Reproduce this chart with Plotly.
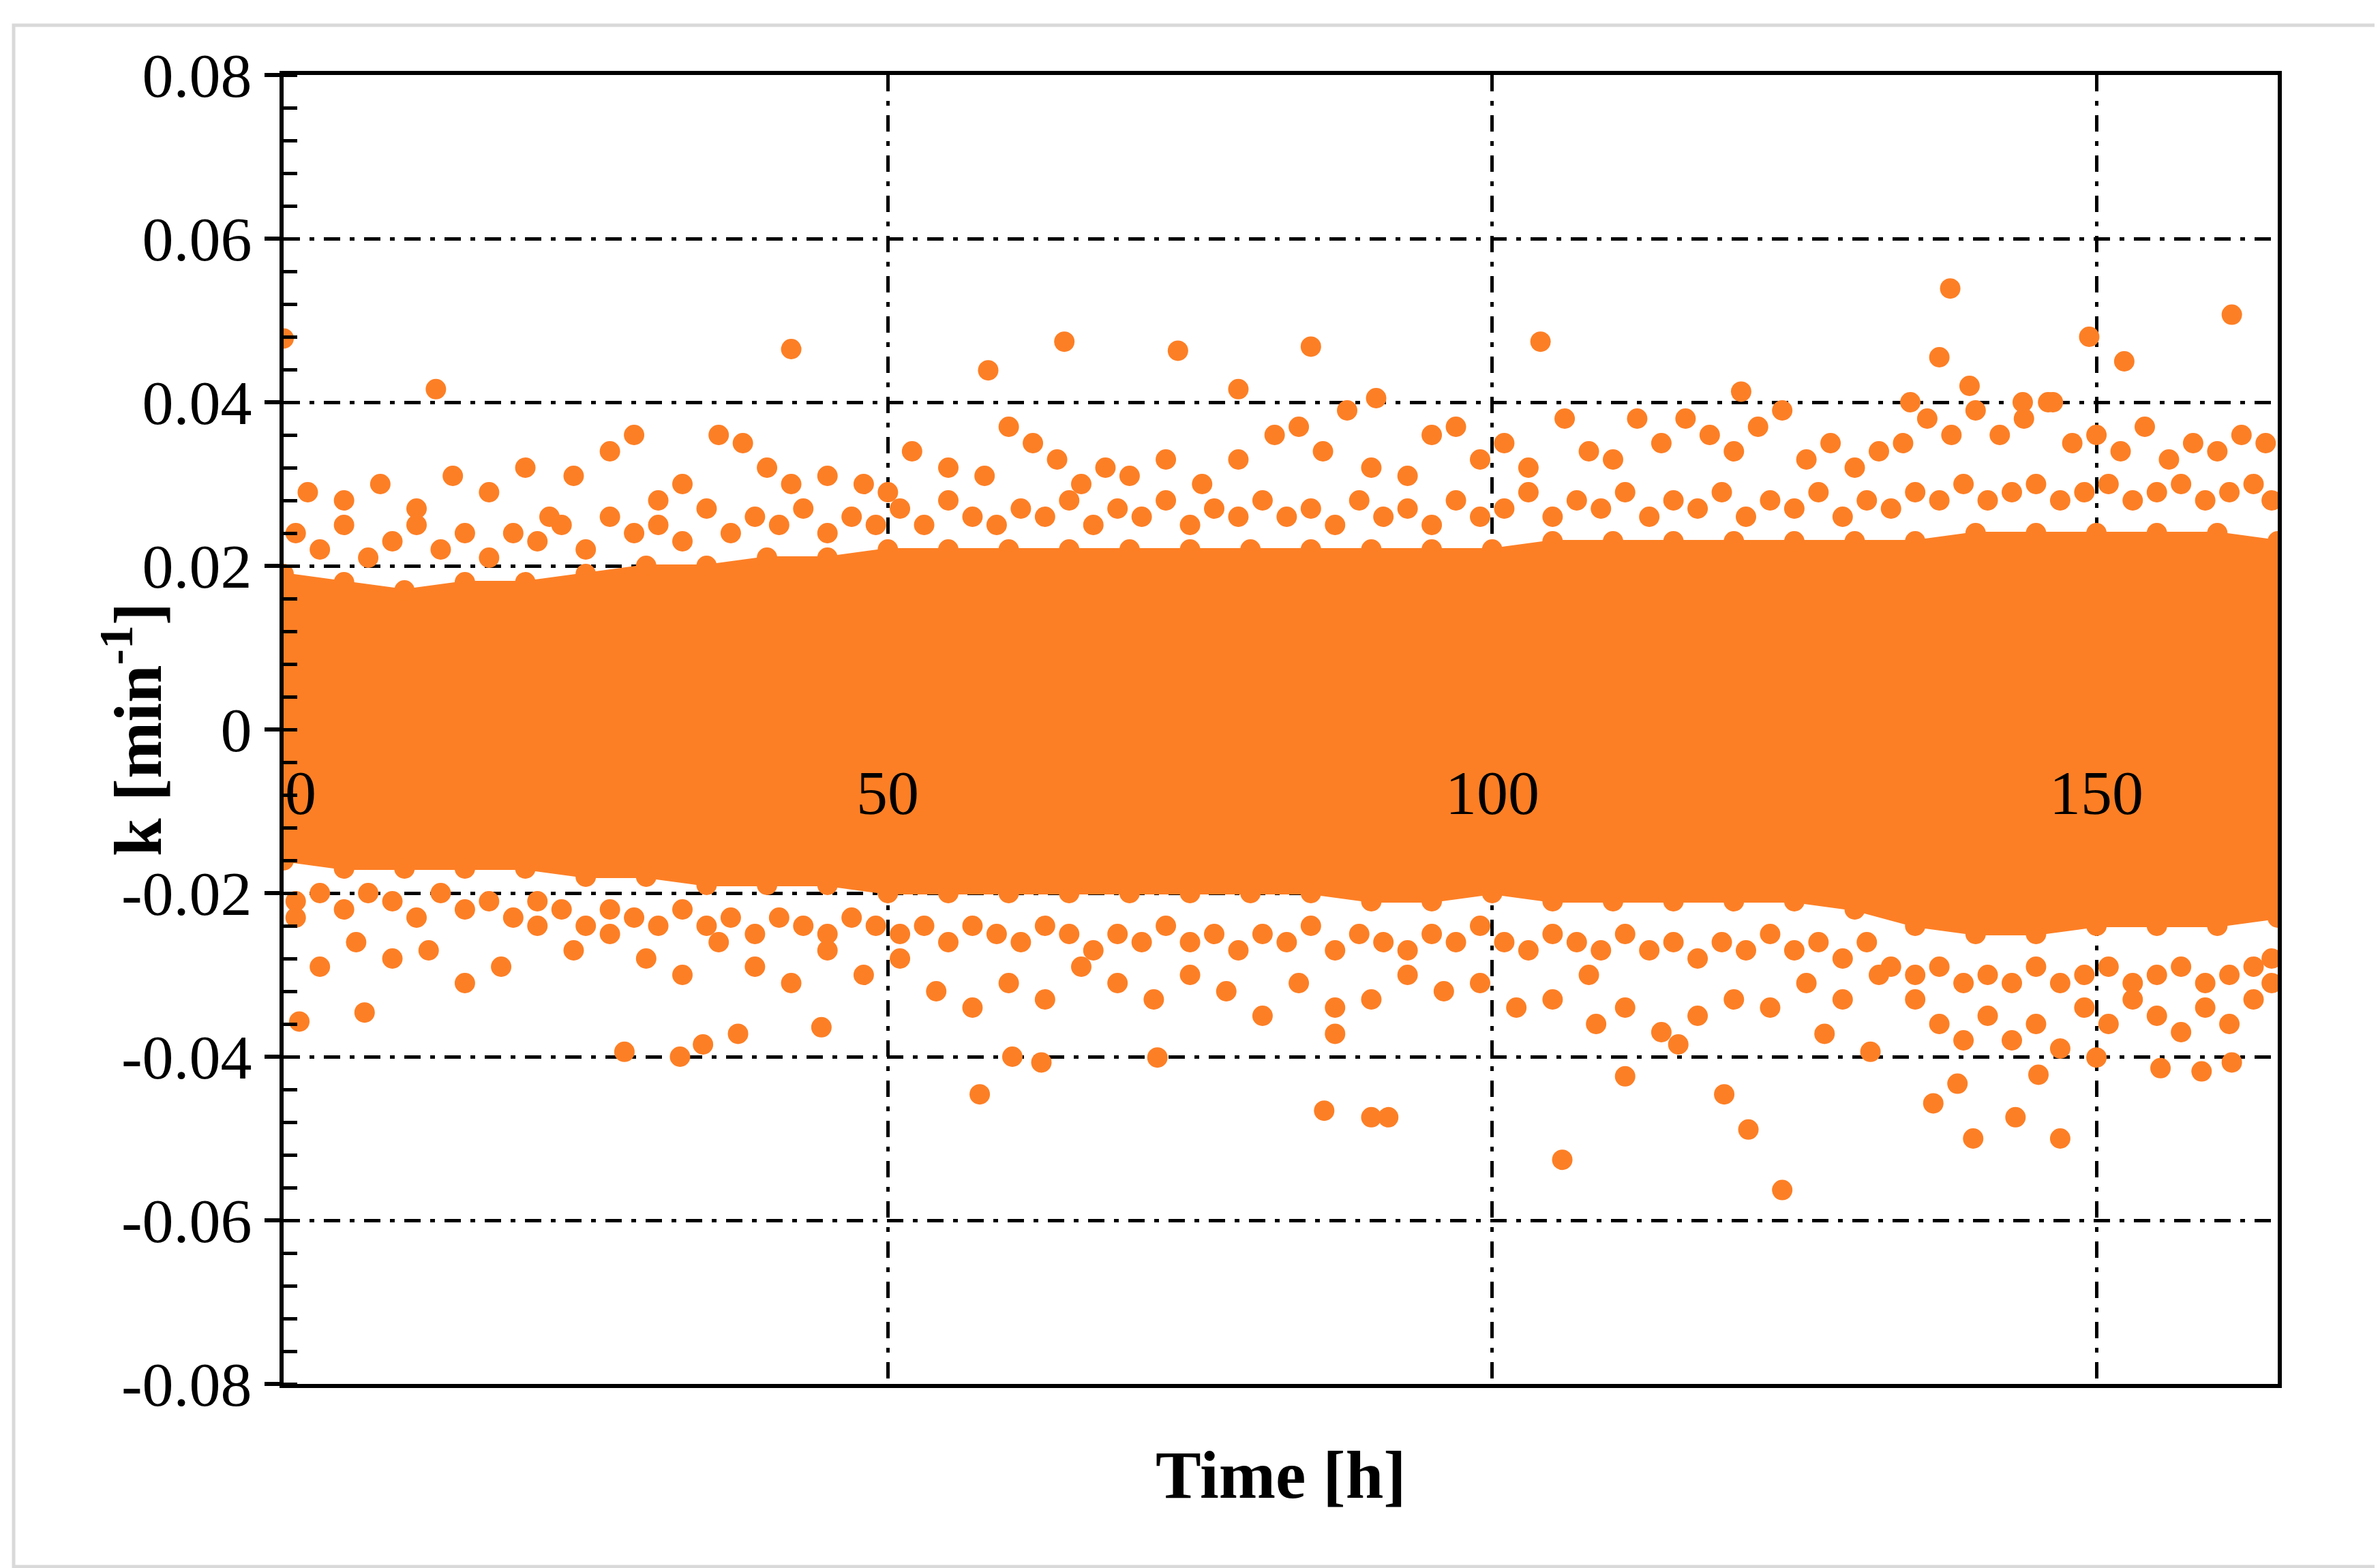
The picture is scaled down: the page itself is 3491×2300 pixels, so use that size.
import plotly.graph_objects as go

# band envelope (dense cloud)
band_t = [0, 5, 10, 15, 20, 25, 30, 35, 40, 45, 50, 55, 60, 65, 70, 75, 80, 85, 90, 95,
          100, 105, 110, 115, 120, 125, 130, 135, 140, 145, 150, 155, 160, 165]
band_hi = [0.019, 0.018, 0.017, 0.018, 0.018, 0.019, 0.020, 0.020, 0.021, 0.021, 0.022, 0.022,
           0.022, 0.022, 0.022, 0.022, 0.022, 0.022, 0.022, 0.022, 0.022, 0.023, 0.023, 0.023,
           0.023, 0.023, 0.023, 0.023, 0.024, 0.024, 0.024, 0.024, 0.024, 0.023]
band_lo = [-0.016, -0.017, -0.017, -0.017, -0.017, -0.018, -0.018, -0.019, -0.019, -0.019, -0.020,
           -0.020, -0.020, -0.020, -0.020, -0.020, -0.020, -0.020, -0.021, -0.021, -0.020, -0.021,
           -0.021, -0.021, -0.021, -0.021, -0.022, -0.024, -0.025, -0.025, -0.024, -0.024, -0.024, -0.023]

# points just outside the band edge
edge_t = [1, 3, 5, 7, 9, 11, 13, 15, 17, 19, 21, 23, 25, 27, 29, 31, 33, 35, 37, 39, 41, 43, 45,
          47, 49, 51, 53, 55, 57, 59, 61, 63, 65, 67, 69, 71, 73, 75, 77, 79, 81, 83, 85, 87, 89,
          91, 93, 95, 97, 99, 101, 103, 105, 107, 109, 111, 113, 115, 117, 119, 121, 123, 125,
          127, 129, 131, 133, 135, 137, 139, 141, 143, 145, 147, 149, 151, 153, 155, 157, 159,
          161, 163, 164.5]
edge_hi = [0.024, 0.022, 0.025, 0.021, 0.023, 0.025, 0.022, 0.024, 0.021, 0.024, 0.023, 0.025,
           0.022, 0.026, 0.024, 0.025, 0.023, 0.027, 0.024, 0.026, 0.025, 0.027, 0.024, 0.026,
           0.025, 0.027, 0.025, 0.028, 0.026, 0.025, 0.027, 0.026, 0.028, 0.025, 0.027, 0.026,
           0.028, 0.025, 0.027, 0.026, 0.028, 0.026, 0.027, 0.025, 0.028, 0.026, 0.027, 0.025,
           0.028, 0.026, 0.027, 0.029, 0.026, 0.028, 0.027, 0.029, 0.026, 0.028, 0.027, 0.029,
           0.026, 0.028, 0.027, 0.029, 0.026, 0.028, 0.027, 0.029, 0.028, 0.030, 0.028, 0.029,
           0.030, 0.028, 0.029, 0.030, 0.028, 0.029, 0.030, 0.028, 0.029, 0.030, 0.028]
edge_lo = [-0.021, -0.020, -0.022, -0.020, -0.021, -0.023, -0.020, -0.022, -0.021, -0.023,
           -0.021, -0.022, -0.024, -0.022, -0.023, -0.024, -0.022, -0.024, -0.023, -0.025,
           -0.023, -0.024, -0.025, -0.023, -0.024, -0.025, -0.024, -0.026, -0.024, -0.025,
           -0.026, -0.024, -0.025, -0.027, -0.025, -0.026, -0.024, -0.026, -0.025, -0.027,
           -0.025, -0.026, -0.024, -0.027, -0.025, -0.026, -0.027, -0.025, -0.026, -0.024,
           -0.026, -0.027, -0.025, -0.026, -0.027, -0.025, -0.027, -0.026, -0.028, -0.026,
           -0.027, -0.025, -0.027, -0.026, -0.028, -0.026, -0.029, -0.030, -0.029, -0.031,
           -0.030, -0.031, -0.029, -0.031, -0.030, -0.029, -0.031, -0.030, -0.029, -0.031,
           -0.030, -0.029, -0.028]

# scattered points above / below the band
pts_t = [2, 5, 8, 11, 14, 17, 20, 22, 24, 27, 29, 31, 33, 36, 38, 40, 42, 45, 48, 50, 52, 55, 58,
         60, 62, 64, 66, 68, 70, 73, 76, 79, 82, 84, 86, 88, 90, 93, 95, 97, 99, 101, 103, 106,
         108, 110, 112, 114, 116, 118, 120, 122, 124, 126, 128, 130, 132, 134, 136, 138, 140,
         142, 144, 146, 148, 150, 152, 154, 156, 158, 160, 162, 164,
         1, 3, 6, 9, 12, 15, 18, 21, 24, 27, 30, 33, 36, 39, 42, 45, 48, 51, 54, 57, 60, 63, 66,
         69, 72, 75, 78, 81, 84, 87, 90, 93, 96, 99, 102, 105, 108, 111, 114, 117, 120, 123, 126,
         129, 132, 135, 137, 139, 141, 143, 145, 147, 149, 151, 153, 155, 157, 159, 161, 163, 164.5]
pts_k = [0.029, 0.028, 0.030, 0.027, 0.031, 0.029, 0.032, 0.026, 0.031, 0.034, 0.036, 0.028,
         0.030, 0.036, 0.035, 0.032, 0.030, 0.031, 0.030, 0.029, 0.034, 0.032, 0.031, 0.037,
         0.035, 0.033, 0.030, 0.032, 0.031, 0.033, 0.030, 0.033, 0.036, 0.037, 0.034, 0.039,
         0.032, 0.031, 0.036, 0.037, 0.033, 0.035, 0.032, 0.038, 0.034, 0.033, 0.038, 0.035,
         0.038, 0.036, 0.034, 0.037, 0.039, 0.033, 0.035, 0.032, 0.034, 0.035, 0.038, 0.036,
         0.039, 0.036, 0.038, 0.040, 0.035, 0.036, 0.034, 0.037, 0.033, 0.035, 0.034, 0.036, 0.035,
         -0.023, -0.029, -0.026, -0.028, -0.027, -0.031, -0.029, -0.024, -0.027, -0.025, -0.028,
         -0.030, -0.026, -0.029, -0.031, -0.027, -0.030, -0.028, -0.032, -0.034, -0.031, -0.033,
         -0.029, -0.031, -0.033, -0.030, -0.032, -0.035, -0.031, -0.034, -0.033, -0.030, -0.032,
         -0.031, -0.034, -0.033, -0.030, -0.034, -0.037, -0.035, -0.033, -0.034, -0.031, -0.033,
         -0.030, -0.033, -0.036, -0.038, -0.035, -0.038, -0.036, -0.039, -0.034, -0.036, -0.033,
         -0.035, -0.037, -0.034, -0.036, -0.033, -0.031]

# outliers
out_t = [0, 12.6, 42, 58.3, 64.6, 74, 79, 85, 90.4, 104, 120.6, 137.9, 137, 139.5, 149.4, 152.3,
         161.2, 134.6, 143.9, 146.4,
         1.3, 6.7, 28.2, 32.8, 34.7, 37.6, 44.5, 57.6, 60.3, 62.7, 72.3, 86.1, 90, 91.4, 105.8,
         111, 119.2, 121.2, 124, 131.3, 136.5, 138.5, 139.8, 143.3, 147, 145.2, 155.3, 158.7,
         161.2, 150, 87, 108.6, 115.4, 127.5]
out_k = [0.0478, 0.0416, 0.0465, 0.0439, 0.0474, 0.0463, 0.0416, 0.0468, 0.0405, 0.0474, 0.0413,
         0.0539, 0.0455, 0.042, 0.048, 0.045, 0.0507, 0.040, 0.040, 0.040,
         -0.0357, -0.0346, -0.0394, -0.040, -0.0385, -0.0372, -0.0364, -0.0446, -0.040, -0.0407,
         -0.0401, -0.0466, -0.0474, -0.0474, -0.0526, -0.0424, -0.0446, -0.0489, -0.0563, -0.0394,
         -0.0457, -0.0433, -0.050, -0.0474, -0.050, -0.0422, -0.0414, -0.0418, -0.0407, -0.0401,
         -0.0372, -0.036, -0.0385, -0.0372]

x_ticks = [0, 50, 100, 150]

ORANGE = "#FD7F25"
FONT = "Liberation Serif"
W, H = 3491, 2300
L, R, T, B = 408, 158, 102, 278
pw, ph = W - L - R, H - T - B
MS = 30
DASH = "24px,14px,7px,14px"

fig = go.Figure()

# dense band as a polygon
fig.add_trace(go.Scatter(x=band_t + band_t[::-1], y=band_hi + band_lo[::-1], mode="lines",
                         fill="toself", fillcolor=ORANGE, line=dict(color=ORANGE, width=4),
                         hoverinfo="skip"))
fig.add_trace(go.Scatter(x=band_t + band_t, y=band_hi + band_lo, mode="markers",
                         marker=dict(color=ORANGE, size=MS)))
fig.add_trace(go.Scatter(x=edge_t + edge_t, y=edge_hi + edge_lo, mode="markers",
                         marker=dict(color=ORANGE, size=MS)))
fig.add_trace(go.Scatter(x=pts_t, y=pts_k, mode="markers", marker=dict(color=ORANGE, size=MS)))
fig.add_trace(go.Scatter(x=out_t, y=out_k, mode="markers", marker=dict(color=ORANGE, size=MS)))

# x tick labels sit on the k = 0 line
for t in x_ticks:
    fig.add_annotation(x=t, y=0, text=str(t), showarrow=False, yanchor="top", yshift=-40,
                       xanchor="left" if t == 0 else "center",
                       font=dict(family=FONT, size=92, color="black"))

fig.add_annotation(x=0.5, y=1 - (2155 - T) / ph, xref="paper", yref="paper",
                   text="<b>Time [h]</b>", showarrow=False, yanchor="middle",
                   font=dict(family=FONT, size=100, color="black"))
fig.add_annotation(x=(122 - L) / pw, y=0.5, xref="paper", yref="paper",
                   text="<b>k [min<sup>-1</sup>]</b>", showarrow=False, textangle=-90,
                   font=dict(family=FONT, size=100, color="black"))

# light grey frame around the whole picture
fig.add_shape(type="rect", xref="paper", yref="paper",
              x0=(12 - L) / pw, x1=(W - 12 - L) / pw,
              y0=1 - (H - 10 - T) / ph, y1=1 - (29 - T) / ph,
              line=dict(color="#D9D9D9", width=5))

fig.update_layout(
    width=W, height=H, margin=dict(l=L, r=R, t=T, b=B),
    plot_bgcolor="white", paper_bgcolor="white", showlegend=False,
    font=dict(family=FONT, size=92, color="black"),
    xaxis=dict(range=[0, 165], tickvals=x_ticks, showticklabels=False, ticks="",
               showgrid=True, gridcolor="black", gridwidth=5, griddash=DASH,
               zeroline=False, showline=True, linecolor="black", linewidth=6, mirror=True),
    yaxis=dict(range=[-0.08, 0.08], ticks="outside",
               ticklen=22, tickwidth=6, tickcolor="black",
               tickvals=[-0.08, -0.06, -0.04, -0.02, 0, 0.02, 0.04, 0.06, 0.08],
               ticktext=["-0.08", "-0.06", "-0.04", "-0.02", "0", "0.02", "0.04", "0.06", "0.08"],
               showgrid=True, gridcolor="black", gridwidth=5, griddash=DASH,
               zeroline=False, showline=True, linecolor="black", linewidth=6, mirror=True,
               minor=dict(dtick=0.004, ticks="inside", ticklen=20, tickwidth=5,
                          tickcolor="black", showgrid=False)),
)

fig.write_html("out.html")
